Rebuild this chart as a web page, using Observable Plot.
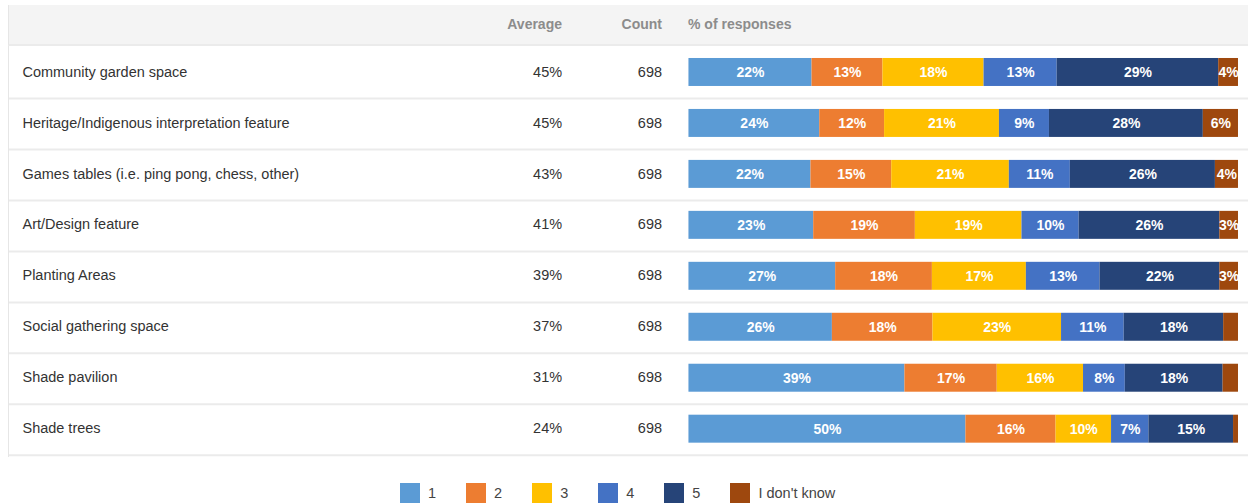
<!DOCTYPE html>
<html><head><meta charset="utf-8">
<script src="https://cdn.jsdelivr.net/npm/d3@7"></script>
<script src="https://cdn.jsdelivr.net/npm/@observablehq/plot@0.6"></script>
<style>
body{margin:0;background:#fff;font-family:"Liberation Sans",Arial,sans-serif;}
#wrap{position:relative;width:1248px;height:504px;overflow:hidden;}
#header{position:absolute;left:8px;top:5px;width:1240px;height:41px;background:#f4f4f4;border-left:1px solid #e6e6e6;border-bottom:2px solid #ebebeb;box-sizing:border-box;}
.h{position:absolute;top:0;line-height:39px;font-size:14px;font-weight:bold;color:#8c8c8c;white-space:nowrap;}
#chart{position:absolute;left:8px;top:46px;border-left:1px solid #e6e6e6;}
#chart svg{display:block;}
#legend{position:absolute;top:483px;left:400px;display:flex;align-items:center;font-size:14.5px;color:#444;}
.item{display:flex;align-items:center;margin-right:30px;}
.sw{width:20px;height:20px;margin-right:8px;}
</style></head>
<body>
<div id="wrap">
  <div id="header">
    <span class="h" id="hAvg" style="right:686px">Average</span>
    <span class="h" id="hCount" style="right:586px">Count</span>
    <span class="h" id="hResp" style="left:679px">% of responses</span>
  </div>
  <div id="chart"></div>
  <div id="legend"></div>
</div>
<script>
const categories = [
  "Community garden space",
  "Heritage/Indigenous interpretation feature",
  "Games tables (i.e. ping pong, chess, other)",
  "Art/Design feature",
  "Planting Areas",
  "Social gathering space",
  "Shade pavilion",
  "Shade trees"
];
const averages = [45, 45, 43, 41, 39, 37, 31, 24];
const counts = [698, 698, 698, 698, 698, 698, 698, 698];
const responses = ["1", "2", "3", "4", "5", "I don't know"];
const colors = ["#5b9bd5", "#ed7d31", "#ffc000", "#4472c4", "#264478", "#9e480e"];
const resp1 = [22.4, 23.8, 22.2, 22.7, 26.7, 26.1, 39.3, 50.4];
const resp2 = [12.9, 11.8, 14.7, 18.5, 17.6, 18.3, 16.8, 16.4];
const resp3 = [18.4, 20.9, 21.4, 19.4, 17.1, 23.4, 15.7, 10.1];
const resp4 = [13.3, 9.1, 11.1, 10.4, 13.4, 11.4, 7.6, 6.8];
const resp5 = [29.4, 28.0, 26.4, 25.6, 21.8, 18.1, 17.8, 15.4];
const respDK = [3.6, 6.4, 4.2, 3.4, 3.4, 2.7, 2.8, 0.9];

const series = [resp1, resp2, resp3, resp4, resp5, respDK];
const segs = [];
categories.forEach((c, i) => {
  responses.forEach((r, j) => segs.push({cat: c, resp: r, value: series[j][i]}));
});
const rows = categories.map((c, i) => ({cat: c, avg: averages[i], count: counts[i]}));

const font = "'Liberation Sans', Arial, sans-serif";
const plot = Plot.plot({
  width: 1240,
  height: 411,
  marginLeft: 0, marginRight: 0, marginTop: 0, marginBottom: 0,
  style: {fontFamily: font, fontSize: "14px", background: "transparent"},
  x: {domain: [0, 100], range: [680, 1230], axis: null},
  y: {domain: categories, range: [0, 410], padding: 0, axis: null},
  color: {domain: responses, range: colors},
  marks: [
    Plot.ruleY(categories, {y: d => d, dy: 25.6, stroke: "#ebebeb", strokeWidth: 2}),
    Plot.barX(segs, Plot.stackX({x: "value", y: "cat", fill: "resp", insetTop: 11, insetBottom: 12})),
    Plot.text(segs, Plot.stackX({
      x: "value", y: "cat", filter: d => d.value >= 3,
      text: d => Math.round(d.value) + "%",
      fill: "white", fontWeight: "bold", fontSize: 14
    })),
    Plot.text(rows, {y: "cat", text: "cat", frameAnchor: "left", dx: 13, dy: -1, textAnchor: "start", fill: "#333", fontSize: 14.5}),
    Plot.text(rows, {y: "cat", text: d => d.avg + "%", frameAnchor: "left", dx: 553, dy: -1, textAnchor: "end", fill: "#333", fontSize: 14.5}),
    Plot.text(rows, {y: "cat", text: d => String(d.count), frameAnchor: "left", dx: 653, dy: -1, textAnchor: "end", fill: "#333", fontSize: 14.5})
  ]
});
document.getElementById("chart").appendChild(plot);

const legend = document.getElementById("legend");
responses.forEach((r, j) => {
  const it = document.createElement("div");
  it.className = "item";
  const sw = document.createElement("div");
  sw.className = "sw";
  sw.style.background = colors[j];
  const lb = document.createElement("span");
  lb.textContent = r;
  it.appendChild(sw); it.appendChild(lb);
  legend.appendChild(it);
});
</script>
</body></html>
